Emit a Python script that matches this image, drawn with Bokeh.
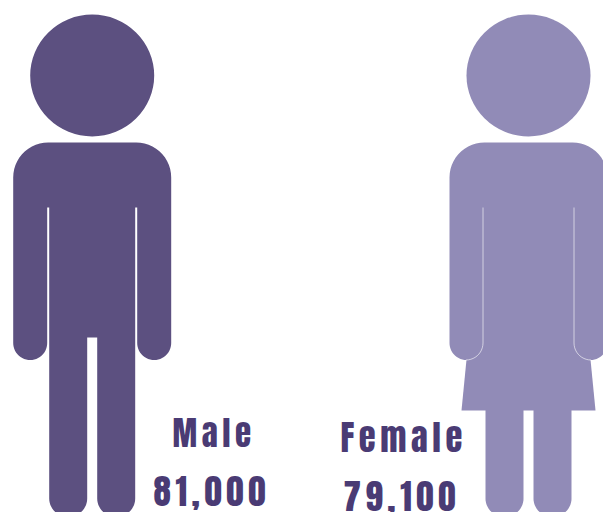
from bokeh.plotting import figure
from bokeh.models import Range1d
from bokeh.core.properties import value
from bokeh.embed import file_html
from bokeh.resources import INLINE
import numpy as np

categories = ["Male", "Female"]
values = [81000, 79100]
colors = ["#5c5080", "#918bb7"]
text_color = "#4a3b74"


def rounded(pts):
    """Polygon through (x, y, r) corners, with each corner rounded by radius r."""
    xs, ys = [], []
    n = len(pts)
    for i in range(n):
        p0 = np.array(pts[i - 1][:2], float)
        p1 = np.array(pts[i][:2], float)
        p2 = np.array(pts[(i + 1) % n][:2], float)
        r = pts[i][2]
        if r == 0:
            xs.append(p1[0]); ys.append(p1[1])
            continue
        u = (p0 - p1) / np.linalg.norm(p0 - p1)
        v = (p2 - p1) / np.linalg.norm(p2 - p1)
        c = p1 + (u + v) * r
        a0 = np.arctan2(*(-v)[::-1])
        a1 = np.arctan2(*(-u)[::-1])
        d = (a1 - a0 + np.pi) % (2 * np.pi) - np.pi
        for t in np.linspace(0, 1, 14):
            a = a0 + d * t
            xs.append(c[0] + r * np.cos(a)); ys.append(c[1] + r * np.sin(a))
    return xs, ys


def shift(shape, cx):
    return [x + cx for x in shape[0]], shape[1]


p = figure(width=603, height=512, x_range=Range1d(0, 603), y_range=Range1d(512, 0),
           toolbar_location=None, output_backend="svg", min_border=0,
           outline_line_color=None, background_fill_color="white", border_fill_color="white")
p.axis.visible = False
p.grid.visible = False
p.styles = {"letter-spacing": "4.6px", "-webkit-text-stroke": "0.6px #4a3b74"}

LEG_BOTTOM = 516
ARM_BOTTOM = 359.5

# male silhouette
cx = 91.7
male = rounded([(-79, 142, 35), (79, 142, 35), (79, ARM_BOTTOM, 17), (45, ARM_BOTTOM, 17), (45, 207, 0), (43, 207, 0),
                (43, LEG_BOTTOM, 18), (5, LEG_BOTTOM, 18), (5, 337, 0), (-5, 337, 0),
                (-5, LEG_BOTTOM, 18), (-43, LEG_BOTTOM, 18), (-43, 207, 0), (-45, 207, 0),
                (-45, ARM_BOTTOM, 17), (-79, ARM_BOTTOM, 17)])
mx, my = shift(male, cx)
p.ellipse([cx], [75], width=124, height=122, fill_color=colors[0], line_color=None)
p.patch(mx, my, fill_color=colors[0], line_color=None)

# female silhouette
cx = 528
upper = rounded([(-79, 142, 35), (79, 142, 35), (79, ARM_BOTTOM, 17), (45, ARM_BOTTOM, 17), (45, 340, 0),
                 (-45, 340, 0), (-45, ARM_BOTTOM, 17), (-79, ARM_BOTTOM, 17)])
skirt = ([-45, 45, 62, 67, -67, -62, -45], [335, 335, 359, 410, 410, 359, 335])
leg_l = rounded([(-43, 405, 0), (-5, 405, 0), (-5, LEG_BOTTOM, 18), (-43, LEG_BOTTOM, 18)])
leg_r = rounded([(5, 405, 0), (43, 405, 0), (43, LEG_BOTTOM, 18), (5, LEG_BOTTOM, 18)])
p.ellipse([cx], [75], width=124, height=122, fill_color=colors[1], line_color=None)
for s in (leg_l, leg_r, skirt, upper):
    sx, sy = shift(s, cx)
    p.patch(sx, sy, fill_color=colors[1], line_color=None)

# thin seams around the arms
t = np.linspace(0, np.pi / 2, 12)
seam_x = [-45.5] * 2 + list(-45.5 - 17 + 17 * np.cos(t))
seam_y = [207, 342.5] + list(342.5 + 17 * np.sin(t))
p.line([v + cx for v in seam_x], seam_y, line_color="white", line_alpha=0.6, line_width=1)
p.line([cx - v for v in seam_x], seam_y, line_color="white", line_alpha=0.6, line_width=1)

# labels
label_x = [172, 340]
name_y = [432, 436]
name_size = ["33px", "34.5px"]
num_x = [153, 343]
num_y = [490, 495]
num_size = ["35px", "35px"]
FONT = value("Anton, Roboto")
for i in range(2):
    p.text([label_x[i]], [name_y[i]], text=[categories[i]], text_color=text_color,
           text_font=FONT, text_font_size=name_size[i], text_align="left", text_baseline="alphabetic")
    p.text([num_x[i]], [num_y[i]], text=[f"{values[i]:,}"], text_color=text_color,
           text_font=FONT, text_font_size=num_size[i], text_align="left", text_baseline="alphabetic")

open("out.html", "w").write(file_html(p, INLINE))
